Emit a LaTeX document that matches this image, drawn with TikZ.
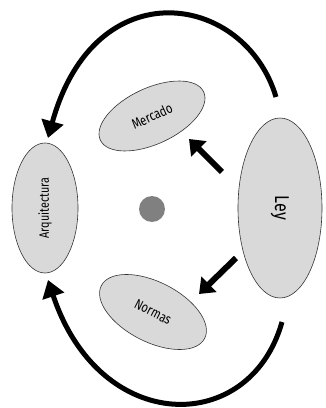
\documentclass[tikz,border=0pt]{standalone}
\usepackage{fontspec}
\setmainfont{Fira Sans}[FakeStretch=0.8]
\usetikzlibrary{shapes.geometric,arrows.meta}
\tikzset{
  oval/.style={ellipse, draw=black!80, line width=0.6pt, fill=black!15, inner sep=0pt},
  bigarc/.style={line width=5pt, -{Triangle[length=17pt,width=22pt]}},
  pusharrow/.style={line width=6pt, -{Triangle[length=14pt,width=21pt]}},
}
\begin{document}
\begin{tikzpicture}[x=1pt,y=1pt]
\useasboundingbox (0,0) rectangle (326,408);
\node[oval, rotate=90, minimum width=130pt, minimum height=66pt] (arq) at (45,200)
  {\fontsize{13.5}{15}\selectfont Arquitectura};
\node[oval, rotate=-90, minimum width=180pt, minimum height=84pt] (ley) at (280,200)
  {\fontsize{20}{24}\selectfont Ley};
\node[oval, rotate=25, minimum width=114pt, minimum height=56pt] (mer) at (152,292)
  {\fontsize{14}{16}\selectfont Mercado};
\node[oval, rotate=-27, minimum width=116pt, minimum height=60pt] (nor) at (153,96)
  {\fontsize{14}{16}\selectfont Normas};
\node[circle, fill=black!50, minimum size=26pt, inner sep=0pt] (dot) at (152,199) {};
\coordinate (ts) at (276,311);
\coordinate (te) at (48,270);
\coordinate (bs) at (282,86);
\coordinate (be) at (48,128);
\coordinate (ms) at (222,236);
\coordinate (me) at (189,269);
\coordinate (ns) at (236,150);
\coordinate (ne) at (199,114);
\draw[bigarc] (ts) .. controls (245,415) and (95,440) .. (te);
\draw[bigarc] (bs) .. controls (250,-28) and (100,-28) .. (be);
\draw[pusharrow] (ms) -- (me);
\draw[pusharrow] (ns) -- (ne);
\end{tikzpicture}
\end{document}
